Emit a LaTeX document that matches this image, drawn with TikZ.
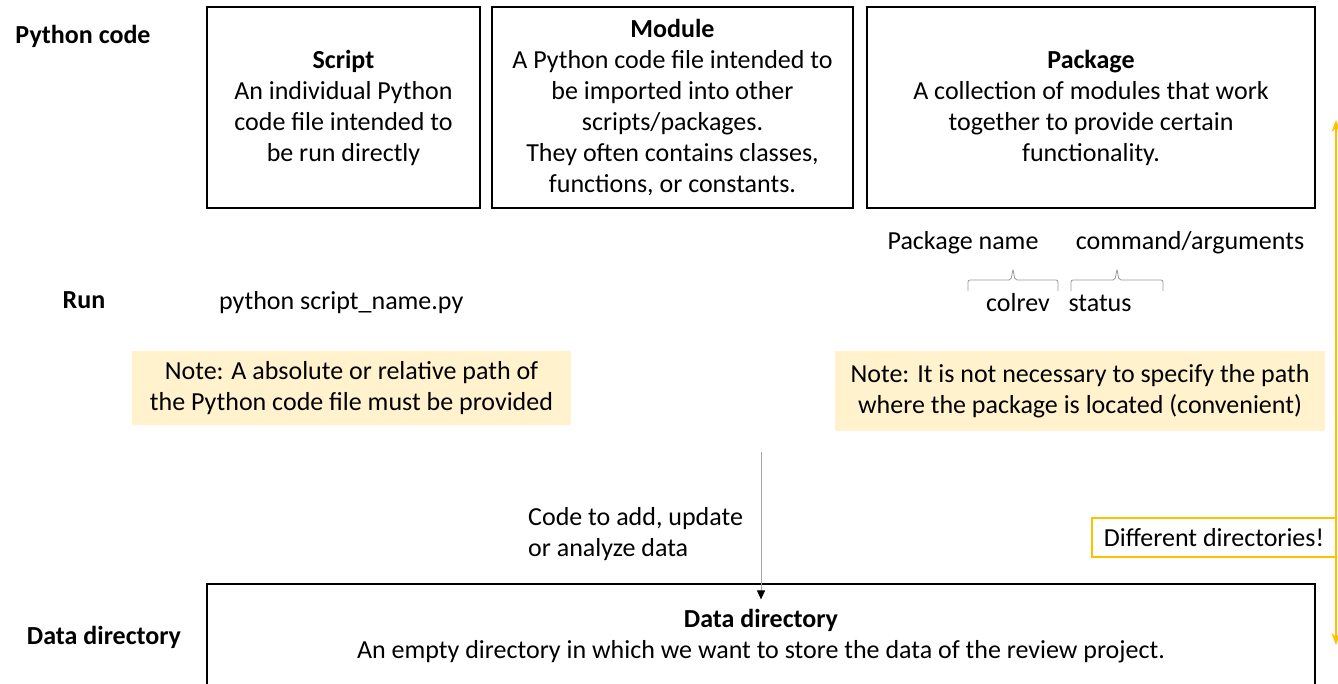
\documentclass[tikz,border=0pt]{standalone}
\usepackage{fontspec}
\setmainfont{Carlito}
\usetikzlibrary{arrows.meta, positioning}
\definecolor{notefill}{HTML}{FFF2CC}
\definecolor{warnline}{HTML}{FFC000}

\begin{document}
\begin{tikzpicture}[x=1pt, y=-1pt,
      every node/.style = {font=\fontsize{26}{31}\selectfont, inner sep=0pt},
      box/.style  = {draw, line width=1.2pt, align=center},
      note/.style = {fill=notefill, align=center},
      lbl/.style  = {font=\fontsize{26}{31}\selectfont\bfseries},
      arr/.style  = {-{Triangle[length=9pt, width=8pt, color=black]}, draw=gray!70, line width=1pt},
      brc/.style  = {draw=gray!80, line width=0.8pt, rounded corners=2pt},
      dbl/.style  = {{Stealth[length=12pt, width=9pt]}-{Stealth[length=12pt, width=9pt]},
                     draw=warnline, line width=1.6pt}
    ]
    \clip (0,0) rectangle (1338,684);

    % row labels
    \node[lbl] (pycode) at (83,36)   {Python code};
    \node[lbl] (run)    at (84,300)  {Run};
    \node[lbl] (datlbl) at (104,637) {Data directory};

    % python code kinds
    \node[box, minimum width=273pt, minimum height=201pt] (script) at (343.5,107.5)
      {\textbf{Script}\\An individual Python\\code file intended to\\be run directly};
    \node[box, minimum width=361pt, minimum height=201pt] (module) at (672.5,107.5)
      {\textbf{Module}\\A Python code file intended to\\be imported into other\\scripts/packages.\\They often contains classes,\\functions, or constants.};
    \node[box, minimum width=448pt, minimum height=201pt] (package) at (1091,107.5)
      {\textbf{Package}\\A collection of modules that work\\together to provide certain\\functionality.};

    % how to run
    \node[anchor=west] (runscript) at (219,303) {python script\_name.py};
    \node (colrev) at (1018,303) {colrev};
    \node (status) at (1100,303) {status};
    \node (pkgname) at (963,243)  {Package name};
    \node (cmdargs) at (1190,243) {command/arguments};
    \coordinate (brcA) at (968,291);
    \coordinate (brcB) at (1058,291);
    \coordinate (brcC) at (1071,291);
    \coordinate (brcD) at (1163,291);
    \draw[brc] (brcA) |- (1011,280) -- (1013,269) -- (1015,280) -| (brcB);
    \draw[brc] (brcC) |- (1115,280) -- (1117,269) -- (1119,280) -| (brcD);

    % notes
    \node[note, minimum width=439pt, minimum height=74pt] (noteleft) at (351.5,388)
      {Note: A absolute or relative path of\\the Python code file must be provided};
    \node[note, minimum width=490pt, minimum height=80pt] (noteright) at (1080,391)
      {Note: It is not necessary to specify the path\\where the package is located (convenient)};

    % data directory
    \node[box, minimum width=1108pt, minimum height=105pt] (data) at (761,636.5)
      {\textbf{Data directory}\\An empty directory in which we want to store the data of the review project.};
    \coordinate (codetop) at (761,452);
    \draw[arr] (codetop) -- ([yshift=-16pt]data.north);
    \node[anchor=west, align=left] (codelbl) at (528,534) {Code to add, update\\or analyze data};

    % different directories
    \coordinate (dirtop) at (1336,120);
    \coordinate (dirbot) at (1336,645);
    \draw[dbl] (dirtop) -- (dirbot);
    \node[draw=warnline, fill=white, line width=1.2pt, minimum width=244pt, minimum height=39pt]
      (diffdir) at (1214,537.5) {Different directories!};
  \end{tikzpicture}
\end{document}
